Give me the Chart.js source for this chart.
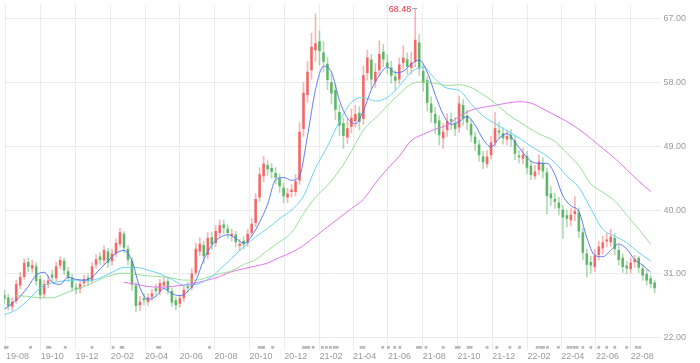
<!DOCTYPE html>
<html lang="en">
<head>
    <meta charset="UTF-8">
    <title>K-line with moving averages</title>
    <script src="https://cdn.jsdelivr.net/npm/chart.js"></script>
    <style>
        html, body { margin: 0; padding: 0; background: #ffffff; }
        .chart-box { position: relative; width: 700px; height: 363px; }
    </style>
</head>
<body>
    <div class="chart-box"><canvas id="kline"></canvas></div>

    <script>
        // Weekly candles; day 0 = 2019-08-01, candle i sits at day 7*i - 3
        const opens = [
            28.0,27.6,26.4,27.2,29.4,30.6,32.6,31.8,32.0,30.2,
            28.2,29.6,30.8,30.4,32.2,32.8,31.3,30.4,29.0,28.9,
            29.7,30.4,30.1,32.3,33.4,32.9,34.1,32.8,33.9,35.2,
            36.6,34.5,32.8,29.3,26.6,27.5,27.1,27.8,28.9,28.5,
            29.4,29.9,28.5,27.2,26.8,27.6,29.2,29.1,31.2,34.2,
            35.0,33.7,36.1,35.4,36.8,37.9,37.3,36.4,36.5,35.0,
            35.6,35.4,36.8,38.2,41.8,44.8,46.3,45.9,45.2,44.4,
            43.1,41.8,42.6,42.6,44.2,51.5,56.3,59.8,62.6,63.8,
            62.2,60.6,58.0,56.9,53.8,52.2,50.3,51.8,52.6,53.7,
            52.9,59.4,61.2,58.2,59.8,62.3,60.8,60.1,58.8,58.5,
            60.8,61.2,60.1,61.0,63.6,59.6,58.3,55.0,53.5,52.6,
            50.2,51.3,52.8,52.2,51.7,54.8,53.3,52.1,50.3,49.2,
            47.5,46.5,47.8,49.6,51.2,50.8,50.0,50.6,49.8,47.6,
            47.3,47.6,46.2,44.8,45.7,46.6,45.3,42.3,41.5,41.0,
            40.0,39.2,38.6,39.5,39.6,36.8,33.8,32.6,32.0,33.7,
            34.6,35.6,35.5,36.0,34.3,33.2,32.1,31.7,32.7,33.2,
            31.7,30.9,30.3,29.7
        ];
        const highs = [
            28.7,28.1,27.6,30.1,31.2,33.1,33.2,32.9,32.5,30.7,
            30.1,30.7,31.5,32.6,33.4,33.2,31.9,30.9,29.6,30.1,
            30.8,31.0,32.6,33.7,34.0,34.9,34.6,34.5,35.9,37.4,
            37.0,35.0,33.3,29.8,27.8,28.2,28.2,28.8,29.5,30.2,
            30.5,30.4,29.0,27.7,28.0,29.3,29.8,31.7,35.3,36.1,
            35.6,36.8,36.8,37.8,38.6,38.6,37.9,37.3,37.0,35.9,
            36.2,37.3,38.8,42.3,46.0,47.6,47.0,46.6,46.0,45.1,
            43.8,43.1,43.6,45.0,52.3,58.0,61.0,65.0,67.7,65.3,
            63.8,61.6,59.2,57.8,54.9,53.0,52.8,54.3,54.8,54.6,
            60.3,62.6,62.0,60.7,63.9,63.4,61.9,61.0,59.7,61.5,
            63.2,62.2,62.3,68.48,64.8,60.5,58.9,56.0,54.5,53.3,
            52.2,53.6,53.7,53.1,56.1,55.6,54.1,52.8,51.0,49.9,
            48.3,48.4,50.4,53.8,52.4,51.6,51.3,51.4,50.5,48.4,
            48.7,48.3,46.9,46.3,47.8,47.4,45.9,43.3,42.4,41.8,
            40.7,40.0,40.2,41.9,40.3,37.4,34.5,33.5,34.4,35.6,
            36.3,36.7,37.3,36.7,35.0,33.8,32.8,33.2,33.6,33.5,
            32.3,31.5,30.8,30.1
        ];
        const lows = [
            26.8,25.9,25.8,26.8,28.9,30.2,31.3,31.2,29.4,27.4,
            27.6,29.0,29.9,30.0,31.7,30.9,29.9,28.6,28.2,28.3,
            29.2,29.3,29.7,31.8,32.3,32.4,31.9,32.2,33.4,34.8,
            34.0,32.2,28.6,25.6,25.8,26.6,26.5,27.2,28.0,28.0,
            28.9,28.1,26.4,25.9,26.3,27.1,28.4,28.7,30.8,33.5,
            32.5,33.1,34.4,34.8,36.2,36.7,36.0,35.6,34.8,34.3,
            34.5,34.9,36.3,37.7,41.2,44.0,44.9,44.5,43.7,42.5,
            41.0,41.0,41.8,42.0,43.6,50.4,55.2,58.5,61.0,60.5,
            59.5,57.0,55.0,52.8,50.5,48.7,49.4,50.9,51.7,51.3,
            52.1,58.3,57.2,57.3,59.0,60.2,59.3,57.9,57.0,57.8,
            59.9,59.2,59.2,60.2,59.0,56.8,54.0,52.4,50.8,49.2,
            48.7,50.4,51.4,50.5,51.0,52.0,51.4,49.7,48.4,46.9,
            45.8,46.0,47.2,49.0,50.1,49.3,49.2,49.0,47.1,46.6,
            46.5,45.1,44.3,44.4,45.0,44.5,39.4,40.6,40.2,39.3,
            36.0,37.6,37.8,38.5,36.1,33.0,30.5,31.1,31.3,32.9,
            33.8,34.8,34.9,33.7,32.2,31.2,31.0,31.1,31.9,31.2,
            30.1,29.4,29.0,28.3
        ];
        const closes = [
            27.5,26.5,27.0,29.5,30.5,32.5,32.0,32.2,30.0,28.0,
            29.5,30.0,30.5,32.0,32.9,31.5,30.5,29.1,28.8,29.5,
            30.2,30.0,32.0,33.0,33.0,34.3,32.6,33.8,35.3,36.8,
            34.7,33.0,29.5,26.5,27.0,27.3,27.6,28.2,28.6,29.6,
            29.8,28.7,27.0,26.6,27.5,28.7,29.0,31.0,34.5,35.2,
            33.5,36.0,35.2,37.0,37.8,37.5,36.8,36.6,35.5,35.2,
            35.2,36.6,38.0,41.5,45.0,46.5,45.8,45.4,44.6,43.4,
            42.0,42.3,42.8,44.0,51.0,56.5,59.5,63.0,63.5,62.5,
            61.0,58.4,56.5,54.2,52.0,50.5,51.5,53.0,53.5,52.5,
            59.0,61.5,58.5,59.5,62.0,61.3,60.3,59.0,58.3,60.5,
            61.5,60.3,60.8,64.0,60.0,58.0,55.2,53.8,52.3,50.6,
            51.0,52.5,52.5,51.5,55.0,53.0,52.4,50.6,49.4,47.8,
            46.8,47.5,49.5,51.5,51.0,50.2,50.4,50.0,48.0,47.5,
            47.8,46.0,45.0,45.4,46.8,45.5,42.0,41.7,41.2,40.3,
            39.0,38.8,39.3,39.8,37.0,34.0,32.3,32.2,33.5,34.8,
            35.4,35.8,36.2,34.5,33.0,32.0,31.8,32.5,33.0,31.9,
            30.8,30.1,29.6,29.0
        ];

        // moving averages
        // ma10: every 2nd candle; the others: every 3rd candle
        const ma10 = [
            26.0,26.8,27.8,29.2,30.8,31.2,29.8,29.5,30.5,30.2,
            30.1,30.5,31.7,32.8,33.9,34.3,32.8,29.0,27.4,27.8,
            28.9,28.2,27.9,28.5,30.0,33.0,35.0,36.1,36.5,36.0,
            35.3,36.3,38.3,40.8,44.3,44.6,44.2,44.8,50.5,57.0,
            60.3,59.5,55.5,53.0,52.2,54.0,57.0,59.0,60.2,59.4,
            59.6,60.6,61.2,59.5,56.3,53.5,52.1,52.5,53.2,52.0,
            50.0,48.9,50.1,50.8,49.6,48.1,46.9,46.6,46.6,45.0,
            42.0,40.6,39.8,36.1,33.6,33.4,34.3,35.2,34.5,33.0,
            32.2,31.2
        ];
        const ma20 = [
            25.2,25.9,27.3,29.0,29.7,30.0,30.1,30.0,30.4,31.2,
            31.9,31.9,31.5,31.0,30.2,29.4,29.5,30.2,31.6,33.2,
            34.8,36.2,37.4,38.8,40.0,42.0,45.9,49.0,52.5,55.2,
            55.9,55.4,55.9,57.5,59.5,60.2,58.5,57.2,56.9,55.0,
            53.3,52.2,51.2,50.2,49.0,48.0,46.7,44.8,43.2,40.2,
            37.3,36.3,35.4,34.0,32.8
        ];
        const ma60 = [
            null,27.9,27.8,27.6,27.6,28.2,28.8,29.4,30.2,30.8,
            31.1,30.9,30.7,30.6,30.4,30.1,30.1,30.5,31.0,31.4,
            32.3,33.0,34.3,35.5,36.8,39.5,41.8,43.5,45.6,48.3,
            51.3,53.0,54.7,56.4,57.8,58.1,57.9,57.6,57.7,57.3,
            56.3,55.1,53.6,52.5,51.4,50.5,49.7,48.0,46.3,43.7,
            42.5,41.3,39.3,37.3,35.2
        ];
        const ma120 = [
            null,null,null,null,null,null,null,null,null,null,
            29.8,29.5,29.2,29.1,29.2,29.4,29.7,30.1,30.6,31.3,
            31.7,32.1,32.5,33.3,34.0,35.0,36.3,37.6,38.9,40.2,
            41.5,43.8,45.8,47.6,49.8,50.7,51.4,52.0,53.2,54.1,
            54.5,54.8,55.1,55.3,55.1,54.3,53.4,52.5,51.4,50.1,
            48.7,47.3,45.7,44.1,42.6
        ];

        const monthLabels = ['19-08','19-10','19-12','20-02','20-04','20-06','20-08','20-10','20-12',
            '21-02','21-04','21-06','21-08','21-10','21-12','22-02','22-04','22-06','22-08'];
        const priceTicks = [22, 31, 40, 49, 58, 67];

        // small event flags along the bottom (days since 2019-08-01)
        const eventDays = [-2,2,43,73,77,104,151,188,202,205,266,270,357,444,449,452,468,522,527,531,
            539,555,562,569,576,581,623,628,661,671,682,691,722,727,737,767,790,795,811,816,844,861,
            884,901,932,938,943,950,969,986,991,997,1002,1012,1026,1040,1054,1068,1089,1106,1112];
        const eventLevel = 20.6;

        const UP = 'rgba(240, 70, 70, A)';
        const DOWN = 'rgba(60, 165, 70, A)';

        document.addEventListener('DOMContentLoaded', () => {
            const candleDay = i => 7 * i - 3;
            const monthDay = s => {
                const [yy, mm] = s.split('-').map(Number);
                return (Date.UTC(2000 + yy, mm - 1, 1) - Date.UTC(2019, 7, 1)) / 864e5;
            };
            const colorOf = (i, a) => (closes[i] >= opens[i] ? UP : DOWN).replace('A', a);
            const sampled = (arr, step) => arr.map((v, k) => ({ x: candleDay(k * step), y: v }));

            const maLine = (label, arr, step, color) => ({
                type: 'line', label, data: sampled(arr, step),
                borderColor: color, borderWidth: 1, pointRadius: 0,
                cubicInterpolationMode: 'monotone', spanGaps: false
            });

            // draws the max price tag above its candle
            const peakLabel = {
                id: 'peakLabel',
                afterDatasetsDraw(chart) {
                    const i = highs.indexOf(Math.max(...highs));
                    const px = chart.scales.x.getPixelForValue(candleDay(i));
                    const py = chart.scales.y.getPixelForValue(highs[i]);
                    const ctx = chart.ctx;
                    ctx.save();
                    ctx.strokeStyle = '#7fb3d5';
                    ctx.lineWidth = 1;
                    ctx.beginPath();
                    ctx.moveTo(px - 3, Math.round(py) + 0.5);
                    ctx.lineTo(px + 2, Math.round(py) + 0.5);
                    ctx.stroke();
                    ctx.fillStyle = '#e8313e';
                    ctx.font = '9px "Liberation Sans", Arial, sans-serif';
                    ctx.textAlign = 'right';
                    ctx.textBaseline = 'middle';
                    ctx.fillText(highs[i].toFixed(2), px - 4, py + 1);
                    ctx.restore();
                }
            };

            new Chart(document.getElementById('kline'), {
                type: 'bar',
                data: {
                    datasets: [
                        maLine('MA10', ma10, 2, 'rgba(80, 110, 240, 0.9)'),
                        maLine('MA20', ma20, 3, '#6ad3f2'),
                        maLine('MA60', ma60, 3, '#98de98'),
                        maLine('MA120', ma120, 3, '#e274ef'),
                        {
                            label: 'body',
                            data: closes.map((c, i) => ({ x: candleDay(i), y: [opens[i], c] })),
                            backgroundColor: ctx => colorOf(ctx.dataIndex, 0.72),
                            barThickness: 2,
                            minBarLength: 1,
                            grouped: false
                        },
                        {
                            label: 'wick',
                            data: closes.map((c, i) => ({ x: candleDay(i), y: [lows[i], highs[i]] })),
                            backgroundColor: ctx => colorOf(ctx.dataIndex, 0.4),
                            barThickness: 1,
                            grouped: false
                        },
                        {
                            type: 'scatter',
                            label: 'events',
                            data: eventDays.map(d => ({ x: d, y: eventLevel })),
                            pointStyle: 'rect',
                            pointRadius: 2,
                            backgroundColor: '#b8b8b8',
                            borderWidth: 0
                        }
                    ]
                },
                options: {
                    responsive: true,
                    maintainAspectRatio: false,
                    animation: false,
                    layout: { padding: { top: 0, left: 0, right: 12, bottom: 0 } },
                    plugins: {
                        legend: { display: false },
                        tooltip: { enabled: false }
                    },
                    scales: {
                        x: {
                            type: 'linear',
                            offset: false,
                            min: -3.5,
                            max: 1150,
                            grid: { color: '#ececec', drawTicks: false, offset: false },
                            border: { display: false },
                            afterBuildTicks: s => { s.ticks = monthLabels.map(l => ({ value: monthDay(l) })); },
                            afterFit: s => { s.paddingLeft = 0; s.paddingRight = 0; },
                            ticks: {
                                autoSkip: false,
                                maxRotation: 0,
                                align: 'start',
                                padding: 1,
                                color: '#9a9a9a',
                                font: { size: 9, family: '"Liberation Sans", Arial, sans-serif' },
                                callback: (v, i) => monthLabels[i]
                            }
                        },
                        y: {
                            position: 'right',
                            min: 20.2,
                            max: 69.1,
                            grid: { color: '#ececec', drawTicks: false },
                            border: { display: false },
                            afterBuildTicks: s => { s.ticks = priceTicks.map(v => ({ value: v })); },
                            afterFit: s => { s.paddingTop = 0; s.paddingBottom = 0; },
                            ticks: {
                                padding: 2,
                                color: '#9a9a9a',
                                font: { size: 9, family: '"Liberation Sans", Arial, sans-serif' },
                                callback: v => v.toFixed(2)
                            }
                        }
                    }
                },
                plugins: [peakLabel]
            });
        });
    </script>
</body>
</html>
